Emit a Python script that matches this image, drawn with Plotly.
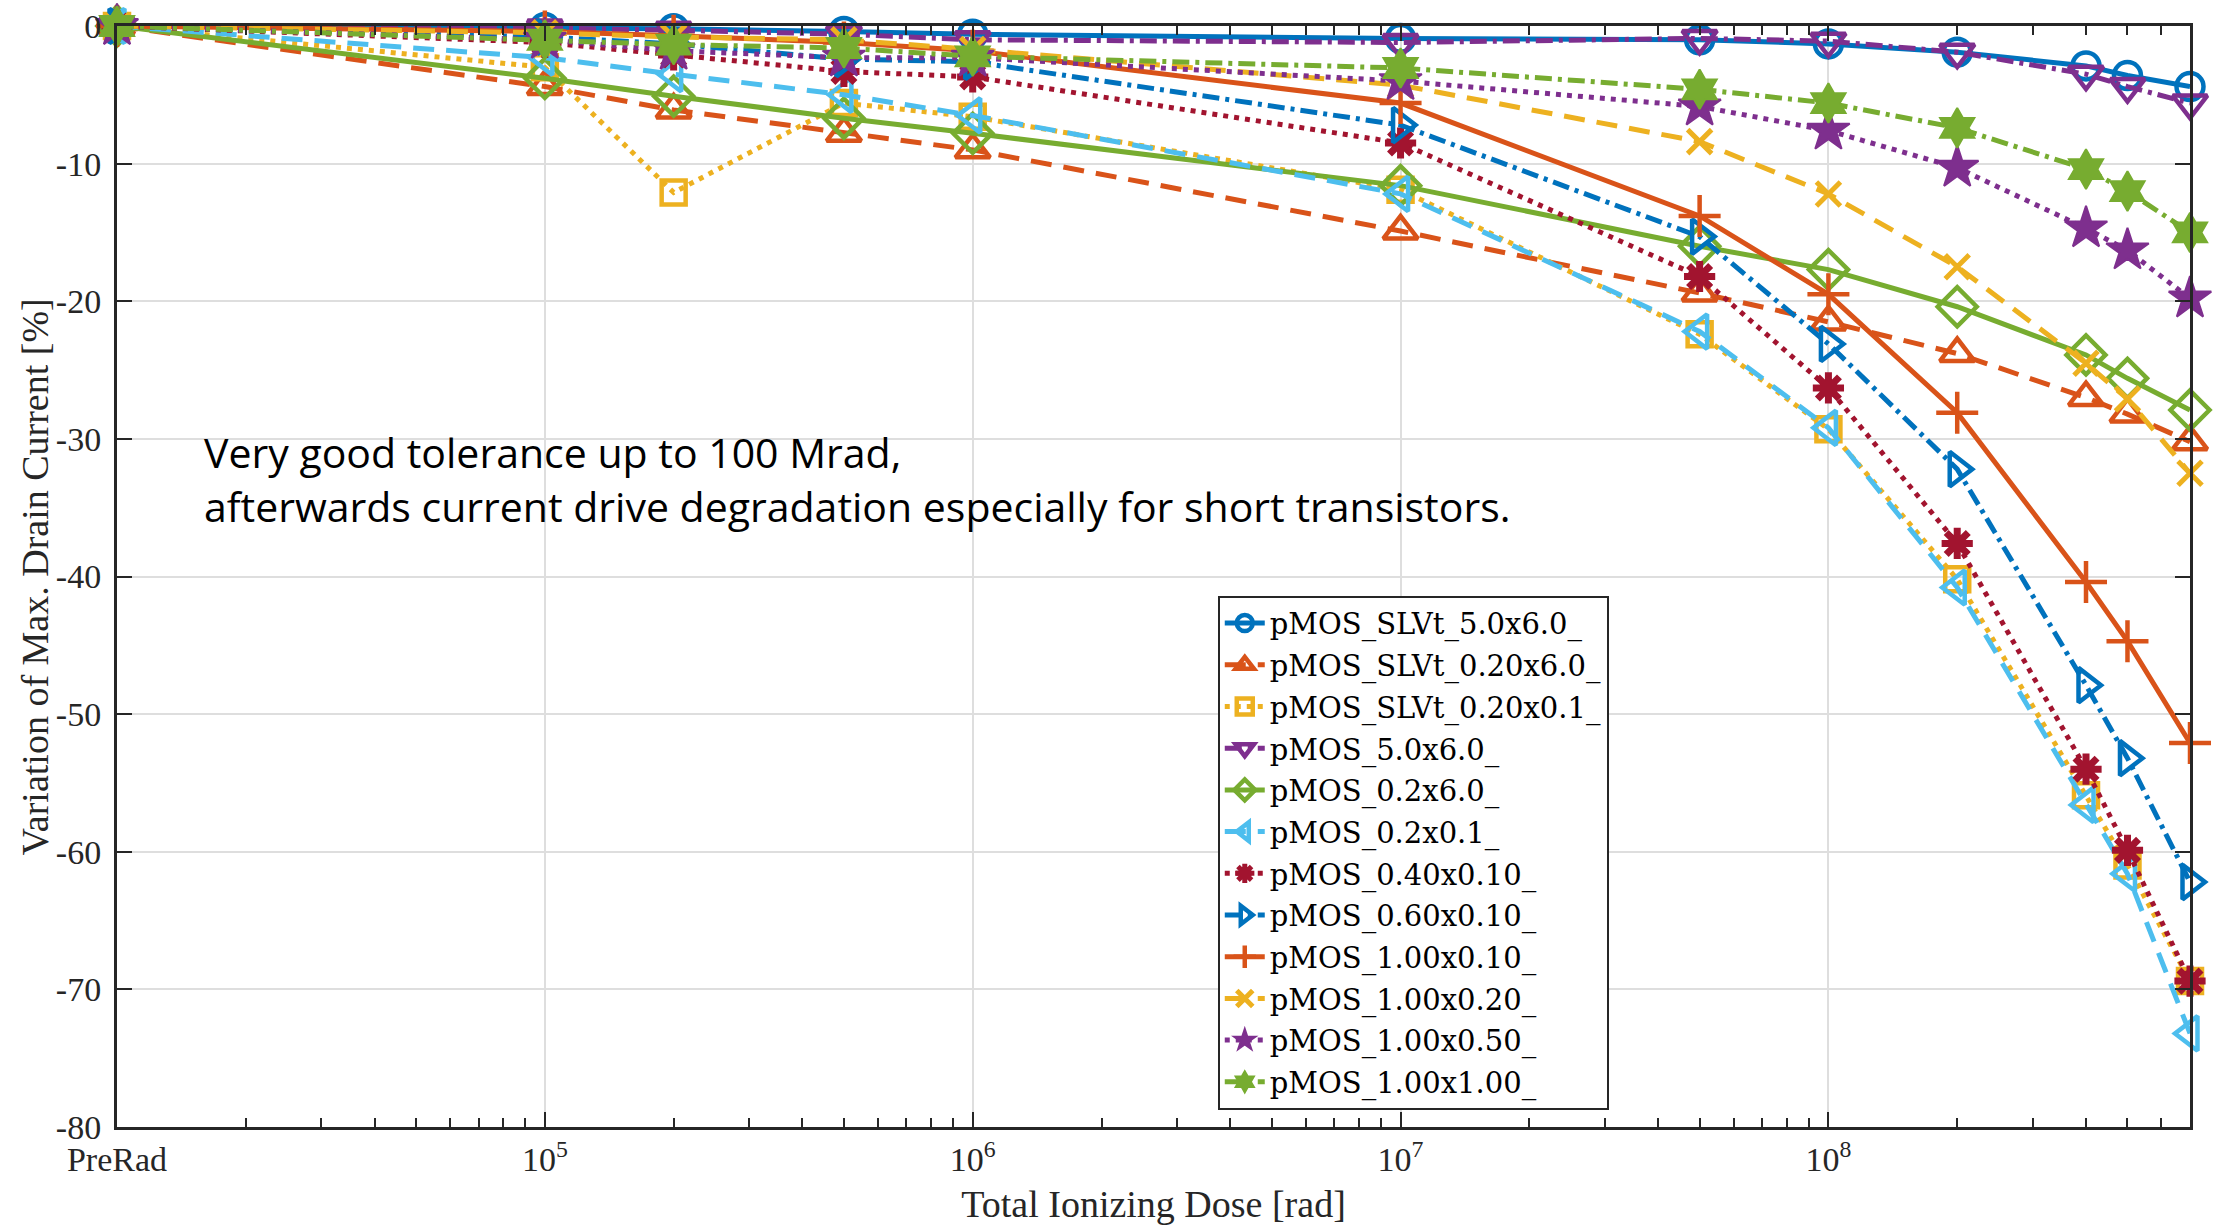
import plotly.graph_objects as go

# Total ionizing dose steps [rad]; the pre-irradiation reference sits at the 1e4 position
dose_rad = [1e4, 1e5, 2e5, 5e5, 1e6, 1e7, 5e7, 1e8, 2e8, 4e8, 5e8, 7e8]

# Variation of maximum drain current [%] per device
slvt_5p0x6p0 = [0, -0.1, -0.2, -0.4, -0.6, -0.9, -1.0, -1.3, -1.9, -2.9, -3.6, -4.4]
slvt_0p20x6p0 = [0, -4.4, -6.1, -7.8, -9.0, -14.9, -19.4, -21.5, -23.8, -27.0, -28.2, -30.2]
slvt_0p20x0p1 = [0, -3.0, -12.1, -5.6, -6.6, -11.9, -22.4, -29.3, -40.2, -55.9, -61.0, -69.4]
pmos_5p0x6p0 = [0, -0.15, -0.3, -0.6, -1.0, -1.2, -0.9, -1.1, -1.9, -3.5, -4.4, -5.6]
pmos_0p2x6p0 = [0, -3.8, -5.1, -6.7, -7.8, -11.6, -16.0, -17.7, -20.4, -23.9, -25.6, -27.9]
pmos_0p2x0p1 = [0, -2.3, -3.5, -5.0, -6.5, -12.2, -22.2, -29.2, -40.8, -56.6, -61.6, -73.2]
pmos_0p40x0p10 = [0, -1.2, -2.1, -3.3, -3.7, -8.5, -18.2, -26.3, -37.6, -54.0, -59.9, -69.4]
pmos_0p60x0p10 = [0, -0.8, -1.3, -2.4, -2.6, -7.2, -15.3, -23.1, -32.2, -47.9, -53.2, -62.2]
pmos_1p00x0p10 = [0, -0.4, -0.7, -1.2, -1.8, -5.6, -13.8, -19.5, -28.1, -40.4, -44.7, -52.1]
pmos_1p00x0p20 = [0, -0.5, -0.8, -1.0, -1.7, -4.3, -8.4, -12.2, -17.5, -24.5, -27.1, -32.5]
pmos_1p00x0p50 = [0, -1.0, -1.8, -2.3, -2.3, -4.0, -5.85, -7.6, -10.3, -14.7, -16.3, -19.8]
pmos_1p00x1p00 = [0, -1.0, -1.35, -1.6, -2.2, -3.05, -4.6, -5.6, -7.4, -10.4, -12.0, -15.0]

series_names = [
    "pMOS_SLVt_5.0x6.0_", "pMOS_SLVt_0.20x6.0_", "pMOS_SLVt_0.20x0.1_",
    "pMOS_5.0x6.0_", "pMOS_0.2x6.0_", "pMOS_0.2x0.1_",
    "pMOS_0.40x0.10_", "pMOS_0.60x0.10_", "pMOS_1.00x0.10_",
    "pMOS_1.00x0.20_", "pMOS_1.00x0.50_", "pMOS_1.00x1.00_",
]
series_values = [
    slvt_5p0x6p0, slvt_0p20x6p0, slvt_0p20x0p1,
    pmos_5p0x6p0, pmos_0p2x6p0, pmos_0p2x0p1,
    pmos_0p40x0p10, pmos_0p60x0p10, pmos_1p00x0p10,
    pmos_1p00x0p20, pmos_1p00x0p50, pmos_1p00x1p00,
]

x_tick_vals = [1e4, 1e5, 1e6, 1e7, 1e8]
x_tick_text = ["PreRad", "10<sup>5</sup>", "10<sup>6</sup>", "10<sup>7</sup>", "10<sup>8</sup>"]
y_tick_vals = [0, -10, -20, -30, -40, -50, -60, -70, -80]
y_tick_text = ["0", "-10", "-20", "-30", "-40", "-50", "-60", "-70", "-80"]

# Styling: colour order, line style cycle and marker per trace
colors = ["#0072BD", "#D95319", "#EDB120", "#7E2F8E", "#77AC30", "#4DBEEE",
          "#A2142F", "#0072BD", "#D95319", "#EDB120", "#7E2F8E", "#77AC30"]
DASHED = "21px,12px"
DOTTED = "5px,6px"
DASHDOT = "17px,6px,4px,6px"
dashes = ["solid", DASHED, DOTTED, DASHDOT] * 3
symbols = ["circle-open", "triangle-up-open", "square-open", "triangle-down-open",
           "diamond-open", "triangle-left-open", "asterisk-open", "triangle-right-open",
           "cross-thin-open", "x-thin-open", "star", "hexagram"]
marker_sizes = [27, 30, 24, 30, 30, 30, 26, 30, 30, 24, 32, 30]
marker_lw = [4.5, 4.5, 4.5, 4.5, 4.5, 4.5, 7, 4.5, 4.5, 5, 2, 2]

minor_ticks = [m * 10 ** k for k in range(4, 9) for m in range(2, 10)]

fig = go.Figure()
for idx, (name, vals, col, dsh, sym, msz, mlw) in enumerate(zip(
        series_names, series_values, colors, dashes, symbols, marker_sizes, marker_lw)):
    fig.add_trace(go.Scatter(
        x=dose_rad, y=vals, name=name, mode="lines+markers",
        legendgroup=f"g{idx}",
        line=dict(color=col, width=5, dash=dsh),
        marker=dict(symbol=sym, size=msz, color=col,
                    line=dict(color=col, width=mlw)),
        cliponaxis=False,
    ))

AXIS_COLOR = "#262626"
GRID_COLOR = "#dedede"
SERIF = "Liberation Serif"
LEGEND_SERIF = "DejaVu Serif"

fig.update_layout(
    template="none",
    width=2215, height=1225,
    margin=dict(l=117, r=25, t=26, b=98, autoexpand=False),
    paper_bgcolor="white", plot_bgcolor="white",
    font=dict(family=SERIF, color=AXIS_COLOR, size=34),
    showlegend=True,
    legend=dict(
        x=0.531, y=0.4825, xanchor="left", yanchor="top",
        bgcolor="white", bordercolor=AXIS_COLOR, borderwidth=2,
        font=dict(family=LEGEND_SERIF, size=29, color="black"),
        itemwidth=40, traceorder="grouped", tracegroupgap=1,
    ),
    xaxis=dict(
        type="log", range=[4, 8.8451],
        tickmode="array", tickvals=x_tick_vals, ticktext=x_tick_text,
        ticks="inside", ticklen=15, tickwidth=2, tickcolor=AXIS_COLOR,
        minor=dict(tickmode="array", tickvals=minor_ticks, ticks="inside",
                   ticklen=9, tickwidth=2, tickcolor=AXIS_COLOR, showgrid=False),
        showline=True, linecolor=AXIS_COLOR, linewidth=3, mirror="ticks",
        showgrid=True, gridcolor=GRID_COLOR, gridwidth=2,
        zeroline=False, automargin=False,
        tickfont=dict(family=SERIF, size=34, color=AXIS_COLOR),
        title=dict(text="Total Ionizing Dose [rad]", standoff=14,
                   font=dict(family=SERIF, size=38, color=AXIS_COLOR)),
    ),
    yaxis=dict(
        range=[-80, 0],
        tickmode="array", tickvals=y_tick_vals, ticktext=y_tick_text,
        ticks="inside", ticklen=15, tickwidth=2, tickcolor=AXIS_COLOR,
        ticklabelstandoff=6,
        showline=True, linecolor=AXIS_COLOR, linewidth=3, mirror="ticks",
        showgrid=True, gridcolor=GRID_COLOR, gridwidth=2,
        zeroline=False, automargin=False,
        tickfont=dict(family=SERIF, size=34, color=AXIS_COLOR),
    ),
)

# y-axis title placed as a rotated label left of the tick labels
fig.add_annotation(
    text="Variation of Max. Drain Current [%]", xref="paper", yref="paper",
    x=-0.0396, y=0.5, xanchor="center", yanchor="middle", textangle=-90,
    showarrow=False, font=dict(family=SERIF, size=38, color=AXIS_COLOR),
)

note_lines = [
    "Very good tolerance up to 100 Mrad,",
    "afterwards current drive degradation especially for short transistors.",
]
for line_text, ypos in zip(note_lines, [0.613, 0.564]):
    fig.add_annotation(
        text=line_text, xref="paper", yref="paper", x=0.041, y=ypos,
        xanchor="left", yanchor="middle", showarrow=False, align="left",
        font=dict(family="Open Sans", size=41, color="black"),
    )

fig.write_html("out.html")
